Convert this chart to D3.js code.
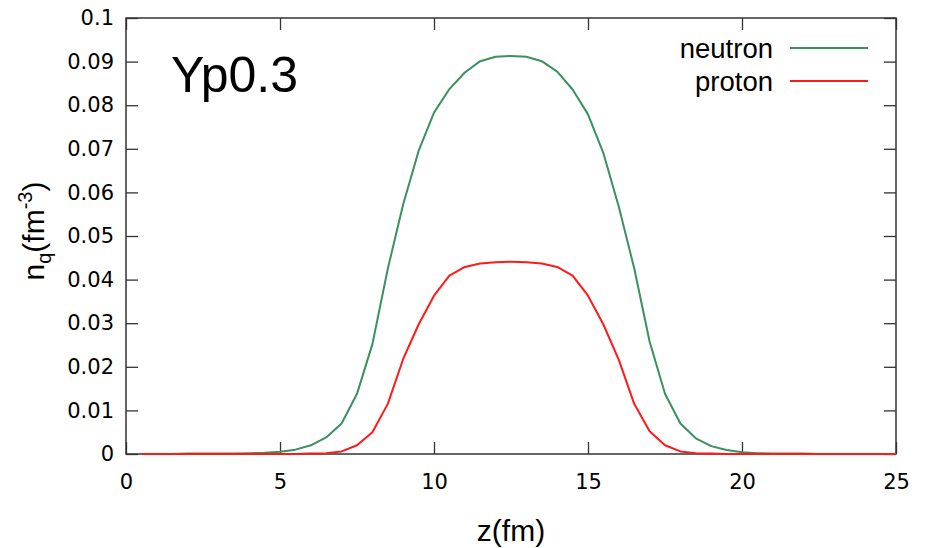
<!DOCTYPE html>
<html>
<head>
<meta charset="utf-8">
<script src="https://cdn.jsdelivr.net/npm/d3@7"></script>
<style>
  body { margin: 0; background: #fff; }
  svg text { fill: #000; }
</style>
</head>
<body>
<div id="chart"></div>
<script>
// z positions (fm)
var zValues = [0.5, 1.0, 1.5, 2.0, 2.5, 3.0, 3.5, 4.0, 4.5, 5.0,
               5.5, 6.0, 6.5, 7.0, 7.5, 8.0, 8.5, 9.0, 9.5, 10.0,
               10.5, 11.0, 11.5, 12.0, 12.5, 13.0, 13.5, 14.0, 14.5, 15.0,
               15.5, 16.0, 16.5, 17.0, 17.5, 18.0, 18.5, 19.0, 19.5, 20.0,
               20.5, 21.0, 21.5, 22.0, 22.5, 23.0, 23.5, 24.0, 24.5, 25.0];

var neutron = [0.0000, 0.0000, 0.0000, 0.0001, 0.0001, 0.0001, 0.0001, 0.0002, 0.0003, 0.0005,
               0.0010, 0.0020, 0.0038, 0.0070, 0.0138, 0.0252, 0.0425, 0.0573, 0.0695, 0.0783,
               0.0837, 0.0875, 0.0901, 0.0911, 0.0913, 0.0911, 0.0901, 0.0877, 0.0836, 0.0779,
               0.0690, 0.0567, 0.0426, 0.0258, 0.0138, 0.0070, 0.0036, 0.0018, 0.0009, 0.0004,
               0.0002, 0.0001, 0.0001, 0.0001, 0.0000, 0.0000, 0.0000, 0.0000, 0.0000, 0.0000];

var proton = [0.0000, 0.0000, 0.0000, 0.0000, 0.0000, 0.0000, 0.0000, 0.0000, 0.0000, 0.0000,
              0.0000, 0.0001, 0.0002, 0.0006, 0.0020, 0.0050, 0.0115, 0.0218, 0.0297, 0.0363,
              0.0409, 0.0429, 0.0437, 0.0440, 0.0441, 0.0440, 0.0437, 0.0429, 0.0409, 0.0363,
              0.0297, 0.0216, 0.0115, 0.0052, 0.0020, 0.0006, 0.0002, 0.0001, 0.0000, 0.0000,
              0.0000, 0.0000, 0.0000, 0.0000, 0.0000, 0.0000, 0.0000, 0.0000, 0.0000, 0.0000];

var xTicks = [0, 5, 10, 15, 20, 25];
var yTicks = [0, 0.01, 0.02, 0.03, 0.04, 0.05, 0.06, 0.07, 0.08, 0.09, 0.1];

var seriesNames = ["neutron", "proton"];
var seriesColors = ["#3a9060", "#ff1a1a"];

function init() {
    var w = 929;
    var h = 548;
    var left = 126, right = 896, top = 18, bottom = 454;
    var tickLen = 12;

    var svg = d3.select("#chart")
                .append("svg")
                .attr("width", w)
                .attr("height", h);

    var x = d3.scaleLinear().domain([0, 25]).range([left, right]);
    var y = d3.scaleLinear().domain([0, 0.1]).range([bottom, top]);

    var axisColor = "#333";
    var tickFont = "'DejaVu Sans', Verdana, sans-serif";

    // bottom axis + mirrored top ticks
    var xAxis = d3.axisBottom(x).tickValues(xTicks).tickSize(-tickLen).tickPadding(tickLen + 8)
                  .tickFormat(d3.format("d"));
    var gx = svg.append("g").attr("transform", "translate(0," + bottom + ")").call(xAxis);
    var xTop = d3.axisTop(x).tickValues(xTicks).tickSize(-tickLen).tickFormat("");
    var gxt = svg.append("g").attr("transform", "translate(0," + top + ")").call(xTop);

    // left axis + mirrored right ticks
    var yAxis = d3.axisLeft(y).tickValues(yTicks).tickSize(-tickLen).tickPadding(12)
                  .tickFormat(function(d) { return d === 0 ? "0" : d3.format(".2~f")(d); });
    var gy = svg.append("g").attr("transform", "translate(" + left + ",0)").call(yAxis);
    var yRight = d3.axisRight(y).tickValues(yTicks).tickSize(-tickLen).tickFormat("");
    var gyr = svg.append("g").attr("transform", "translate(" + right + ",0)").call(yRight);

    [gx, gxt, gy, gyr].forEach(function(g) {
        g.select(".domain").remove();
        g.selectAll(".tick line").attr("stroke", axisColor).attr("stroke-width", 1.3);
        g.selectAll(".tick text")
         .attr("font-family", tickFont)
         .attr("font-size", 21)
         .attr("fill", "#000");
    });
    gx.selectAll(".tick text").attr("dy", "0.71em");

    // frame
    svg.append("rect")
       .attr("x", left).attr("y", top)
       .attr("width", right - left).attr("height", bottom - top)
       .attr("fill", "none")
       .attr("stroke", axisColor)
       .attr("stroke-width", 1.5);

    // lines
    var allSeries = [neutron, proton];
    var line = d3.line()
                 .x(function(d, i) { return x(zValues[i]); })
                 .y(function(d) { return y(d); });

    svg.selectAll("path.series")
       .data(allSeries)
       .enter()
       .append("path")
       .attr("class", "series")
       .attr("d", line)
       .attr("fill", "none")
       .attr("stroke", function(d, i) { return seriesColors[i]; })
       .attr("stroke-width", 2)
       .attr("stroke-linejoin", "round");

    // legend
    var legend = svg.append("g");
    seriesNames.forEach(function(name, i) {
        var ly = 48 + i * 33;
        legend.append("text")
              .attr("x", 773)
              .attr("y", ly)
              .attr("dy", "0.35em")
              .attr("text-anchor", "end")
              .attr("font-family", "'Liberation Sans', Arial, sans-serif")
              .attr("font-size", 27.5)
              .text(name);
        legend.append("line")
              .attr("x1", 790).attr("x2", 868)
              .attr("y1", ly).attr("y2", ly)
              .attr("stroke", seriesColors[i])
              .attr("stroke-width", 2);
    });

    // annotation
    svg.append("text")
       .attr("x", 171)
       .attr("y", 92)
       .attr("font-family", "'Liberation Sans', Arial, sans-serif")
       .attr("font-size", 50)
       .text("Yp0.3");

    // x label
    svg.append("text")
       .attr("x", (left + right) / 2)
       .attr("y", 541)
       .attr("text-anchor", "middle")
       .attr("font-family", "'Liberation Sans', Arial, sans-serif")
       .attr("font-size", 30)
       .text("z(fm)");

    // y label
    var yl = svg.append("text")
       .attr("transform", "translate(44,231) rotate(-90)")
       .attr("text-anchor", "middle")
       .attr("font-family", "'Liberation Sans', Arial, sans-serif")
       .attr("font-size", 30);
    yl.append("tspan").text("n");
    yl.append("tspan").attr("font-size", 20).attr("dy", 7).text("q");
    yl.append("tspan").attr("dy", -7).text("(fm");
    yl.append("tspan").attr("font-size", 20).attr("dy", -12).text("-3");
    yl.append("tspan").attr("dy", 12).text(")");
}

window.onload = init;
</script>
</body>
</html>
